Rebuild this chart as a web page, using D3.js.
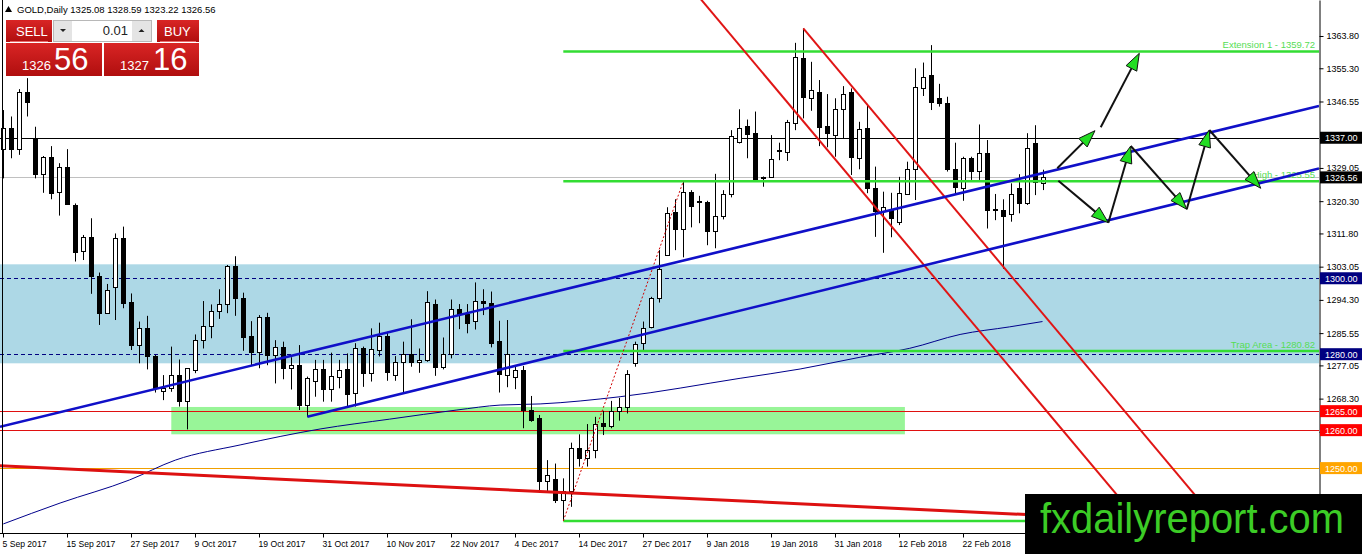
<!DOCTYPE html>
<html><head><meta charset="utf-8">
<script src="https://cdn.jsdelivr.net/npm/d3@7"></script>
<style>
body{margin:0;background:#fff;overflow:hidden}
svg{display:block}
text{font-family:"Liberation Sans",Arial,sans-serif}
</style>
</head><body>
<svg id="chart" width="1362" height="554"></svg>
<script>
// ---------- DATA ----------
const symbolName = "GOLD,Daily";
const opens  = [1334.0,1339.5,1334.0,1349.0,1337.0,1327.4,1331.9,1322.6,1329.2,1319.3,1307.2,1310.8,1300.7,1290.8,1297.8,1310.5,1293.7,1282.3,1286.8,1279.5,1270.4,1271.0,1274.5,1267.7,1275.8,1283.7,1287.5,1291.5,1293.1,1303.1,1294.7,1284.8,1280.7,1289.7,1279.8,1281.8,1276.3,1277.2,1266.6,1272.9,1276.1,1270.8,1274.1,1276.1,1269.7,1281.5,1275.0,1281.1,1284.8,1274.5,1277.9,1280.1,1277.9,1278.5,1293.2,1276.5,1280.1,1291.8,1290.6,1288.7,1294.1,1293.4,1283.6,1274.4,1274.1,1275.8,1265.3,1263.1,1246.7,1247.0,1241.6,1244.1,1255.2,1252.6,1254.9,1261.8,1261.1,1265.1,1266.2,1277.8,1282.9,1287.1,1294.7,1306.1,1317.4,1312.9,1322.6,1320.3,1320.0,1312.4,1316.5,1322.2,1336.0,1340.1,1338.2,1326.7,1326.6,1333.6,1333.3,1341.0,1357.9,1347.6,1349.1,1340.1,1337.7,1344.7,1349.1,1331.6,1339.5,1323.9,1317.8,1318.1,1314.7,1322.2,1328.9,1350.0,1353.5,1347.4,1346.1,1328.7,1323.9,1331.7,1328.3,1332.9,1318.2,1318.0,1316.8,1323.7,1319.7,1335.5,1325.08];
const highs  = [1344.3,1342.6,1349.8,1352.7,1339.9,1332.2,1334.8,1330.3,1334.0,1319.7,1311.4,1315.8,1301.5,1298.5,1311.8,1313.6,1296.0,1288.6,1290.1,1279.8,1274.5,1282.0,1278.6,1276.3,1285.2,1294.0,1293.1,1297.1,1303.5,1305.8,1296.2,1288.7,1290.3,1290.9,1283.7,1283.3,1279.2,1282.4,1274.1,1278.5,1278.5,1280.4,1278.5,1280.2,1282.9,1282.0,1286.8,1288.3,1285.9,1279.5,1283.3,1289.2,1281.5,1296.6,1294.4,1284.4,1294.4,1293.2,1293.2,1298.9,1297.1,1296.5,1288.8,1289.0,1276.9,1276.9,1269.0,1264.0,1252.1,1251.2,1247.3,1256.7,1258.9,1261.6,1263.5,1265.1,1267.7,1268.5,1275.8,1283.3,1288.6,1295.1,1307.4,1318.7,1320.8,1325.55,1323.2,1321.7,1320.4,1327.5,1323.2,1339.0,1344.5,1341.8,1343.9,1326.8,1337.7,1335.7,1341.7,1362.0,1365.8,1357.0,1352.2,1348.5,1347.4,1350.6,1350.0,1341.2,1345.4,1329.4,1322.8,1322.5,1326.7,1330.7,1355.3,1356.8,1361.4,1351.2,1347.8,1335.7,1332.0,1332.0,1340.5,1336.4,1322.2,1320.8,1325.0,1327.4,1338.2,1340.3,1328.59];
const lows   = [1326.3,1331.6,1332.5,1342.6,1326.3,1322.5,1320.8,1316.5,1319.3,1304.4,1304.8,1295.9,1287.7,1290.8,1289.0,1292.1,1281.1,1277.6,1276.0,1269.9,1267.9,1270.1,1266.2,1260.2,1275.0,1281.5,1284.2,1289.3,1290.8,1290.1,1280.9,1277.1,1276.3,1277.1,1272.3,1273.4,1270.7,1265.3,1263.5,1268.8,1267.5,1267.5,1271.0,1266.2,1266.2,1271.4,1272.8,1279.4,1273.0,1273.0,1269.9,1276.7,1275.1,1278.0,1274.3,1276.0,1278.9,1286.6,1285.5,1286.5,1290.3,1281.8,1269.9,1271.3,1270.8,1260.5,1262.2,1243.5,1243.5,1240.8,1236.09,1239.8,1250.4,1250.4,1252.6,1258.7,1260.5,1262.5,1264.4,1276.7,1281.1,1286.8,1293.6,1305.9,1307.4,1305.5,1313.4,1314.5,1308.7,1307.9,1315.5,1321.3,1335.5,1331.6,1325.5,1324.1,1326.6,1331.1,1330.9,1339.0,1342.1,1344.1,1334.8,1334.5,1332.0,1336.8,1327.2,1328.7,1322.4,1310.9,1306.7,1310.8,1314.0,1322.2,1320.6,1348.0,1344.3,1345.2,1328.1,1322.2,1320.4,1325.9,1325.9,1313.1,1315.3,1302.5,1314.9,1317.1,1319.3,1321.9,1323.22];
const closes = [1339.5,1334.0,1349.0,1346.3,1327.4,1331.9,1322.4,1329.2,1319.6,1307.0,1310.8,1300.7,1290.8,1296.9,1310.5,1293.4,1282.4,1287.0,1279.6,1271.0,1271.0,1274.5,1267.7,1276.3,1283.7,1287.5,1291.4,1293.1,1303.3,1294.7,1284.6,1280.7,1289.7,1279.8,1281.8,1276.3,1277.2,1266.6,1273.6,1276.1,1270.8,1274.3,1275.8,1269.4,1281.5,1275.0,1281.3,1284.8,1275.4,1277.9,1280.1,1277.9,1278.5,1293.8,1276.5,1280.1,1291.8,1290.6,1288.1,1294.1,1293.4,1283.0,1274.8,1280.1,1275.8,1265.3,1262.7,1246.7,1248.2,1241.6,1244.1,1255.2,1252.6,1254.9,1261.6,1261.1,1265.1,1266.2,1274.8,1282.7,1286.8,1294.7,1302.4,1317.1,1312.9,1322.6,1319.0,1320.0,1312.4,1316.5,1322.1,1337.5,1339.7,1337.9,1325.9,1326.3,1331.3,1333.9,1341.2,1358.2,1347.8,1349.6,1339.9,1338.2,1344.7,1348.5,1332.0,1339.2,1323.9,1317.8,1318.7,1315.8,1322.4,1328.9,1350.3,1353.1,1346.5,1346.1,1328.9,1324.1,1331.7,1328.3,1332.9,1318.0,1318.0,1316.5,1322.2,1319.7,1334.2,1325.4,1326.56];

const dateLabels = ["5 Sep 2017","15 Sep 2017","27 Sep 2017","9 Oct 2017","19 Oct 2017","31 Oct 2017","10 Nov 2017","22 Nov 2017","4 Dec 2017","14 Dec 2017","27 Dec 2017","9 Jan 2018","19 Jan 2018","31 Jan 2018","12 Feb 2018","22 Feb 2018"];
const dateLabelIndex = [0,8,16,24,32,40,48,56,64,72,80,88,96,104,112,120];
// visible price-scale labels (the others are covered by level tags / watermark)
const priceTicks = [1363.80,1355.30,1346.55,1329.05,1320.30,1311.80,1303.05,1294.30,1285.55,1277.05,1268.30,1259.55];

// moving average (bar index, price)
const maIndex  = [0,7.1,15.8,21.5,29.6,39.6,48.3,56.7,62.1,67.1,77.1,92.1,99.6,107.1,113.3,119.6,125.8,129.9];
const maValues = [1235.3,1240.8,1246.9,1252.1,1256.1,1260.3,1262.9,1265.3,1266.6,1266.9,1268.8,1273.65,1276.1,1279.2,1281.55,1285.2,1287.2,1288.6];

// horizontal levels
const bidPrice = 1326.56, askPrice = 1327.16;
const resistanceLevel = 1337.00;
const zoneTop = 1303.67, zoneBottom = 1277.6;
const dashedLevels = [1300.00, 1280.00];
const redLevels = [1265.00, 1260.00];
const orangeLevel = 1250.00;
const greenBox = {i0: 21, i1: 112.7, top: 1266.1, bottom: 1258.9};

// fibonacci
const fibStartIndex = 70, fibEndIndex = 85;
const fibLow = 1236.09, fibHigh = 1325.55;
const fibRatios = [0, 0.5, 1, 1.382];
const fibNames  = ["", "Trap Area", "High", "Extension 1"];

// trend lines (bar index, price)
const blueLines = [
  [[-0.4125, 1260.90], [164.4625, 1345.36]],
  [[38, 1263.5], [164.4625, 1328.90]]
];
const redChannel = [
  [[87, 1373.97], [165, 1178.2]],
  [[100, 1365.8], [165, 1202.65]]
];
const redTrend = [[-0.4125, 1250.6], [164.4625, 1234.1]];

// projected path arrows (bar index, price)
const arrows = [
  [[131.75,1328.96],[136.46,1338.86]],
  [[137.18,1339.75],[142.0,1359.24]],
  [[131.88,1325.69],[138.13,1314.63]],
  [[138.13,1314.63],[140.93,1334.83]],
  [[140.93,1334.83],[147.93,1318.16]],
  [[147.93,1318.16],[150.75,1339.04]],
  [[150.75,1339.04],[157.18,1323.69]]
];

const axisLabels = [
  [1337.00, "#000000"], [1326.56, "#000000"], [1300.00, "#000080"], [1280.00, "#000080"],
  [1265.00, "#ff0000"], [1260.00, "#ff0000"], [1250.00, "#ffa500"]
];

// ---------- DRAW ----------
const W = 1319, H = 533;
const svg = d3.select("#chart");
const x = d3.scaleLinear().domain([-0.4125, 164.4625]).range([0, W]);
const y = d3.scaleLinear().domain([1232.91, 1373.28]).range([H, 0]);
const px = v => Math.round(x(v)) + 0.5;
const py = v => Math.round(y(v)) + 0.5;

const defs = svg.append("defs");
defs.append("clipPath").attr("id","plot")
  .append("rect").attr("x",0).attr("y",0).attr("width",W).attr("height",H);
const grad = defs.append("linearGradient").attr("id","redg").attr("x1",0).attr("y1",0).attr("x2",0).attr("y2",1);
grad.append("stop").attr("offset","0%").attr("stop-color","#d92525");
grad.append("stop").attr("offset","100%").attr("stop-color","#b00e0e");

const g = svg.append("g").attr("clip-path","url(#plot)");

// zone
g.append("rect").attr("x",0).attr("width",W)
  .attr("y",y(zoneTop)).attr("height",y(zoneBottom)-y(zoneTop)).attr("fill","#add8e6");
// green box
g.append("rect").attr("x",x(greenBox.i0)).attr("width",x(greenBox.i1)-x(greenBox.i0))
  .attr("y",y(greenBox.top)).attr("height",y(greenBox.bottom)-y(greenBox.top)).attr("fill","#98f598");

// horizontal lines
const hline = (p, color, w, dash) => g.append("line").attr("x1",0).attr("x2",W)
  .attr("y1",py(p)).attr("y2",py(p)).attr("stroke",color).attr("stroke-width",w)
  .attr("stroke-dasharray",dash||null);
dashedLevels.forEach(p => hline(p,"#000080",1,"4,3"));
redLevels.forEach(p => hline(p,"#e01010",1));
hline(orangeLevel,"#f0a000",1);
hline(bidPrice,"#c0c0c0",1);
hline(resistanceLevel,"#000000",1);

// moving average
g.append("path").datum(maIndex.map((d,i)=>[d,maValues[i]]))
  .attr("fill","none").attr("stroke","#00008b").attr("stroke-width",1)
  .attr("d", d3.line().x(d=>x(d[0])).y(d=>y(d[1])).curve(d3.curveMonotoneX));

// candles
const idx = d3.range(opens.length);
const cg = g.append("g");
cg.selectAll("line.wick").data(idx).join("line").attr("class","wick")
  .attr("x1",i=>px(i)).attr("x2",i=>px(i))
  .attr("y1",i=>y(highs[i])).attr("y2",i=>y(lows[i]))
  .attr("stroke","#000").attr("stroke-width",1);
cg.selectAll("rect.body").data(idx).join("rect").attr("class","body")
  .attr("x",i=>px(i)-2).attr("width",4)
  .attr("y",i=>Math.round(y(Math.max(opens[i],closes[i])))+0.5)
  .attr("height",i=>Math.max(0.01, Math.round(y(Math.min(opens[i],closes[i])))-Math.round(y(Math.max(opens[i],closes[i])))))
  .attr("fill",i=>closes[i]>=opens[i]?"#ffffff":"#000000")
  .attr("stroke","#000").attr("stroke-width",1);

// fibonacci levels
const fibRange = fibHigh - fibLow;
fibRatios.forEach((r,k) => {
  const lvl = fibLow + r*fibRange;
  g.append("line").attr("x1",x(fibStartIndex)).attr("x2",W)
    .attr("y1",y(lvl)).attr("y2",y(lvl)).attr("stroke","#33dd33").attr("stroke-width",2.5);
  if (fibNames[k]) {
    g.append("text").attr("x",W-4).attr("y",y(lvl)-3).attr("text-anchor","end")
      .attr("font-size",9.5).attr("fill","#55dd55").text(fibNames[k]+" - "+lvl.toFixed(2));
  }
});
g.append("line").attr("x1",x(fibStartIndex)).attr("y1",y(fibLow))
  .attr("x2",x(fibEndIndex)).attr("y2",y(fibHigh))
  .attr("stroke","#d00000").attr("stroke-width",1).attr("stroke-dasharray","2,2");

// trend lines
const seg = (s, color, w) => g.append("line")
  .attr("x1",x(s[0][0])).attr("y1",y(s[0][1])).attr("x2",x(s[1][0])).attr("y2",y(s[1][1]))
  .attr("stroke",color).attr("stroke-width",w);
seg(redTrend,"#dd1111",3);
redChannel.forEach(s => seg(s,"#e01515",2));
blueLines.forEach(s => seg(s,"#1010c8",2.6));

// arrows
arrows.forEach(a => {
  const x1=x(a[0][0]), y1=y(a[0][1]), x2=x(a[1][0]), y2=y(a[1][1]);
  const dx=x2-x1, dy=y2-y1, L=Math.hypot(dx,dy), ux=dx/L, uy=dy/L;
  const len=17, hw=6;
  g.append("line").attr("x1",x1).attr("y1",y1).attr("x2",x2-ux*len*0.6).attr("y2",y2-uy*len*0.6)
    .attr("stroke","#111").attr("stroke-width",2);
  const bx=x2-ux*len, by=y2-uy*len;
  g.append("path").attr("d",`M${x2},${y2}L${bx-uy*hw},${by+ux*hw}L${bx+uy*hw},${by-ux*hw}Z`)
    .attr("fill","#22dd22").attr("stroke","#111").attr("stroke-width",1);
});

// left border
svg.append("line").attr("x1",2.5).attr("x2",2.5).attr("y1",0).attr("y2",H).attr("stroke","#000");

// axes
const ya = svg.append("g").attr("transform",`translate(${W+0.5},0)`)
  .call(d3.axisRight(y).tickValues(priceTicks).tickSize(4).tickSizeOuter(0).tickFormat(d3.format(".2f")));
ya.attr("font-family","Liberation Sans, Arial, sans-serif").attr("font-size",9);
ya.selectAll("text").attr("fill","#000").attr("x",7);
ya.select(".domain").attr("stroke","#000");

const xa = svg.append("g").attr("transform",`translate(0,${H+0.5})`)
  .call(d3.axisBottom(x).tickValues(dateLabelIndex).tickSize(4).tickSizeOuter(0)
    .tickFormat((d,i)=>dateLabels[i]));
xa.attr("font-family","Liberation Sans, Arial, sans-serif").attr("font-size",8.6);
xa.selectAll(".tick").attr("transform",d=>`translate(${px(d)},0)`);
xa.selectAll("text").attr("text-anchor","start").attr("x",-1).attr("fill","#000");
xa.select(".domain").attr("stroke","#000").attr("d",`M0,0H${W}`);

// right-axis price labels
axisLabels.forEach(([p,c]) => {
  svg.append("rect").attr("x",W+1).attr("y",y(p)-6).attr("width",1362-W-1).attr("height",12).attr("fill",c);
  svg.append("text").attr("x",W+6).attr("y",y(p)+3.5).attr("font-size",9).attr("fill","#fff").text(p.toFixed(2));
});

// header
const last = opens.length-1;
svg.append("path").attr("d","M5,12L8.5,6L12,12Z").attr("fill","#000");
svg.append("text").attr("x",17).attr("y",13).attr("font-size",9.5).attr("fill","#000")
  .text(`${symbolName}  ${opens[last].toFixed(2)} ${highs[last].toFixed(2)} ${lows[last].toFixed(2)} ${closes[last].toFixed(2)}`);

// trade panel
const panel = svg.append("g");
const bidS = bidPrice.toFixed(2).split("."), askS = askPrice.toFixed(2).split(".");
panel.append("rect").attr("x",6).attr("y",20).attr("width",46).attr("height",22).attr("fill","url(#redg)");
panel.append("rect").attr("x",6).attr("y",43).attr("width",96).attr("height",33).attr("fill","url(#redg)");
panel.append("rect").attr("x",157).attr("y",20).attr("width",42).attr("height",22).attr("fill","url(#redg)");
panel.append("rect").attr("x",104).attr("y",43).attr("width",95).attr("height",33).attr("fill","url(#redg)");
panel.append("line").attr("x1",10).attr("x2",48).attr("y1",41.5).attr("y2",41.5).attr("stroke","#e86a6a");
panel.append("line").attr("x1",160).attr("x2",196).attr("y1",41.5).attr("y2",41.5).attr("stroke","#e86a6a");
panel.append("rect").attr("x",53.5).attr("y",20.5).attr("width",98).attr("height",21).attr("fill","#fff").attr("stroke","#b8b8b8");
panel.append("rect").attr("x",54).attr("y",21).attr("width",18).attr("height",20).attr("fill","#e4e4e4");
panel.append("rect").attr("x",132).attr("y",21).attr("width",19).attr("height",20).attr("fill","#e4e4e4");
panel.append("path").attr("d","M60,29L66,29L63,32Z").attr("fill","#222");
panel.append("path").attr("d","M138.5,32L144.5,32L141.5,29Z").attr("fill","#222");
panel.append("text").attr("x",128).attr("y",35).attr("text-anchor","end").attr("font-size",13).attr("fill","#222").text("0.01");
panel.append("text").attr("x",16).attr("y",36).attr("font-size",13).attr("fill","#fff").text("SELL");
panel.append("text").attr("x",164).attr("y",36).attr("font-size",13).attr("fill","#fff").text("BUY");
panel.append("text").attr("x",22).attr("y",70).attr("font-size",13).attr("fill","#fff").text(bidS[0]);
panel.append("text").attr("x",54).attr("y",70).attr("font-size",31).attr("fill","#fff").text(bidS[1]);
panel.append("text").attr("x",120).attr("y",70).attr("font-size",13).attr("fill","#fff").text(askS[0]);
panel.append("text").attr("x",153).attr("y",70).attr("font-size",31).attr("fill","#fff").text(askS[1]);

// watermark
svg.append("rect").attr("x",1025).attr("y",494).attr("width",337).attr("height",60).attr("fill","#000");
svg.append("text").attr("x",1040).attr("y",533).attr("font-size",42).attr("fill","#3ccc26")
  .attr("textLength",304).attr("lengthAdjust","spacingAndGlyphs").text("fxdailyreport.com");
</script>
</body></html>
